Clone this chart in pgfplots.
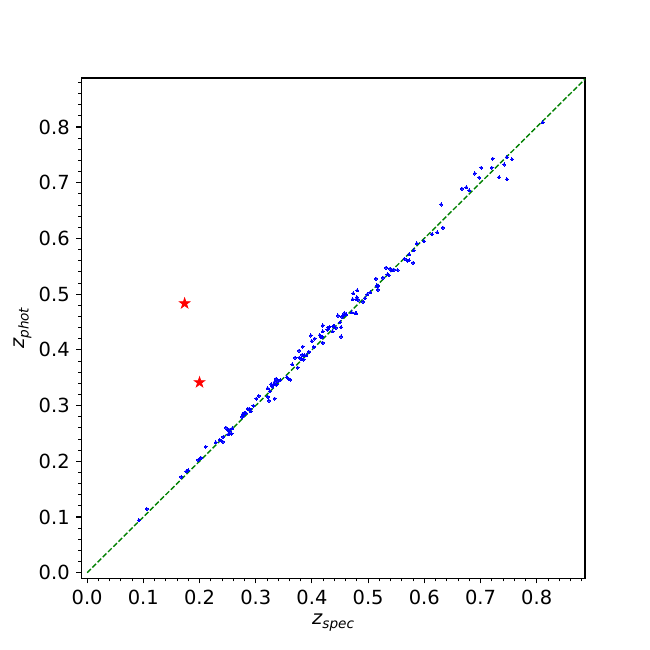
\documentclass[border=0pt]{standalone}
\usepackage{fontspec}
\setmainfont{DejaVu Sans}
\usepackage{pgfplots}
\pgfplotsset{compat=1.18}
\definecolor{mplblue}{rgb}{0,0,1}
\definecolor{mplred}{rgb}{1,0,0}
\definecolor{mplgreen}{rgb}{0,0.5,0}
\pgfdeclareplotmark{fstar}{%
  \pgfpathmoveto{\pgfpointpolar{90}{\pgfplotmarksize}}%
  \pgfpathlineto{\pgfpointpolar{126}{0.382\pgfplotmarksize}}%
  \pgfpathlineto{\pgfpointpolar{162}{\pgfplotmarksize}}%
  \pgfpathlineto{\pgfpointpolar{198}{0.382\pgfplotmarksize}}%
  \pgfpathlineto{\pgfpointpolar{234}{\pgfplotmarksize}}%
  \pgfpathlineto{\pgfpointpolar{270}{0.382\pgfplotmarksize}}%
  \pgfpathlineto{\pgfpointpolar{306}{\pgfplotmarksize}}%
  \pgfpathlineto{\pgfpointpolar{342}{0.382\pgfplotmarksize}}%
  \pgfpathlineto{\pgfpointpolar{18}{\pgfplotmarksize}}%
  \pgfpathlineto{\pgfpointpolar{54}{0.382\pgfplotmarksize}}%
  \pgfpathclose
  \pgfusepathqfillstroke
}
\pgfplotstableread{
x y
0.0922 0.0941
0.1060 0.1145
0.1675 0.1720
0.1765 0.1819
0.1795 0.1838
0.1976 0.2024
0.2024 0.2061
0.2108 0.2259
0.2289 0.2339
0.2361 0.2382
0.2416 0.2351
0.2422 0.2438
0.2470 0.2605
0.2506 0.2556
0.2512 0.2481
0.2536 0.2525
0.2572 0.2494
0.2584 0.2593
0.2524 0.2568
0.2759 0.2797
0.2771 0.2847
0.2795 0.2865
0.2825 0.2865
0.2777 0.2822
0.2861 0.2939
0.2892 0.2939
0.2910 0.2896
0.2958 0.2995
0.3012 0.3125
0.3054 0.3175
0.3211 0.3311
0.3235 0.3088
0.3217 0.3156
0.3253 0.3255
0.3277 0.3385
0.3295 0.3342
0.3319 0.3373
0.3337 0.3422
0.3361 0.3478
0.3373 0.3373
0.3337 0.3125
0.3398 0.3441
0.3434 0.3453
0.3554 0.3509
0.3584 0.3484
0.3614 0.3465
0.3651 0.3738
0.3699 0.3861
0.3747 0.3682
0.3771 0.3985
0.3777 0.3861
0.3807 0.3837
0.3825 0.3911
0.3837 0.4059
0.3855 0.3824
0.3867 0.3899
0.3898 0.3899
0.3946 0.3967
0.3982 0.4257
0.4000 0.4158
0.4030 0.4053
0.4048 0.4202
0.4139 0.4264
0.4157 0.4233
0.4193 0.4437
0.4193 0.4332
0.4193 0.4127
0.4181 0.4233
0.4277 0.4363
0.4295 0.4394
0.4313 0.4412
0.4367 0.4332
0.4380 0.4425
0.4398 0.4425
0.4422 0.4394
0.4464 0.4616
0.4500 0.4493
0.4518 0.4406
0.4518 0.4239
0.4536 0.4598
0.4560 0.4610
0.4578 0.4660
0.4608 0.4635
0.4705 0.4672
0.4723 0.4907
0.4735 0.5012
0.4771 0.4653
0.4789 0.4653
0.4789 0.4907
0.4801 0.4944
0.4807 0.5068
0.4819 0.4901
0.4910 0.4864
0.4946 0.4926
0.4988 0.5000
0.5036 0.5031
0.5139 0.5278
0.5157 0.5155
0.5175 0.5080
0.5181 0.5149
0.5265 0.5297
0.5319 0.5476
0.5343 0.5353
0.5367 0.5340
0.5392 0.5458
0.5422 0.5427
0.5458 0.5439
0.5524 0.5433
0.5651 0.5631
0.5705 0.5600
0.5729 0.5606
0.5729 0.5712
0.5801 0.5563
0.5813 0.5786
0.5867 0.5910
0.5994 0.5947
0.6139 0.6077
0.6229 0.6108
0.6301 0.6609
0.6331 0.6194
0.6669 0.6894
0.6747 0.6918
0.6801 0.6863
0.6898 0.7166
0.6976 0.7092
0.7012 0.7271
0.7199 0.7271
0.7217 0.7432
0.7331 0.7098
0.7422 0.7327
0.7470 0.7457
0.7470 0.7061
0.7560 0.7420
0.8108 0.8082
}\bluedata
\pgfplotstableread{
x y
0.1735 0.4833
0.2000 0.3416
}\reddata
\begin{document}
\fontsize{14}{16.8}\selectfont
\begin{tikzpicture}
\path[use as bounding box] (-58.5pt,-51.48pt) rectangle (409.5pt,416.52pt);
\begin{axis}[
  at={(0pt,0pt)}, anchor=south west,
  scale only axis, width=362.7pt, height=360.36pt,
  xmin=-0.0105, xmax=0.886, ymin=-0.0105, ymax=0.888,
  xtick={0,0.1,0.2,0.3,0.4,0.5,0.6,0.7,0.8},
  ytick={0,0.1,0.2,0.3,0.4,0.5,0.6,0.7,0.8},
  minor xtick={0.02,0.04,0.06,0.08,0.12,0.14,0.16,0.18,0.22,0.24,0.26,0.28,0.32,0.34,0.36,0.38,0.42,0.44,0.46,0.48,0.52,0.54,0.56,0.58,0.62,0.64,0.66,0.68,0.72,0.74,0.76,0.78,0.82,0.84,0.86,0.88},
  minor ytick={0.02,0.04,0.06,0.08,0.12,0.14,0.16,0.18,0.22,0.24,0.26,0.28,0.32,0.34,0.36,0.38,0.42,0.44,0.46,0.48,0.52,0.54,0.56,0.58,0.62,0.64,0.66,0.68,0.72,0.74,0.76,0.78,0.82,0.84,0.86,0.88},
  tick align=outside, tick pos=left,
  major tick length=3.5pt, minor tick length=2pt,
  every major tick/.style={black, line width=0.8pt},
  every minor tick/.style={black, line width=0.6pt},
  axis line style={line width=0.8pt},
  ticklabel style={font=\fontsize{14}{16.8}\selectfont},
  /pgf/number format/.cd, fixed, fixed zerofill, precision=1, assume math mode=true,
  /pgfplots/.cd,
  xlabel={\itshape z\raisebox{-2.9pt}{\fontsize{9.8}{10}\selectfont\itshape spec}},
  ylabel={\itshape z\raisebox{-2.9pt}{\fontsize{9.8}{10}\selectfont\itshape phot}},
  label style={font=\fontsize{14}{16.8}\selectfont},
  xlabel style={yshift=3pt},
  ylabel style={yshift=-4.3pt},
  clip=false,
]
\addplot[mplgreen, line width=1pt, dash pattern=on 3.7pt off 1.6pt] coordinates {(0,0) (0.886,0.886)};
\addplot[only marks, mark=*, mark size=1.1pt, mplblue, mark options={draw=mplblue, fill=mplblue, line width=0pt}] table[x=x,y=y] {\bluedata};
\addplot[only marks, mark=fstar, mark size=4pt, mplred, mark options={draw=mplred, fill=mplred, line width=0.5pt}] table[x=x,y=y] {\reddata};
\end{axis}
\end{tikzpicture}
\end{document}
